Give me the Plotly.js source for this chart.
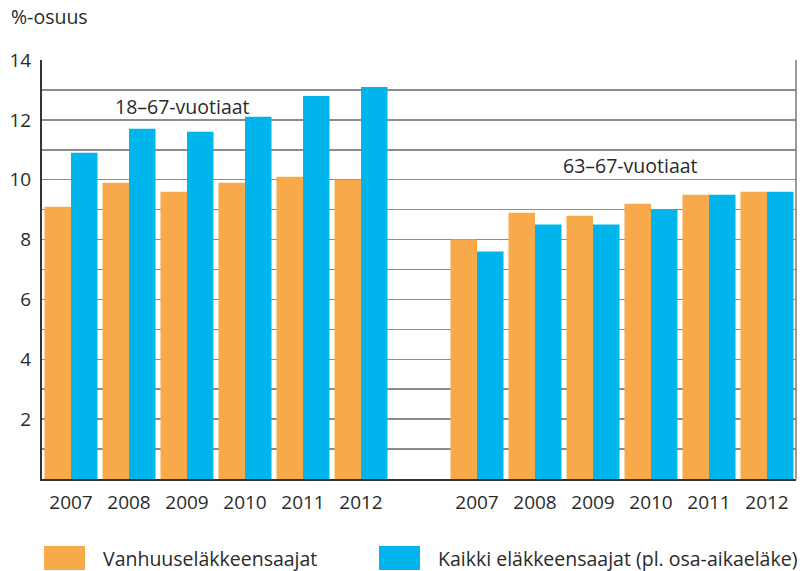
<!DOCTYPE html>
<html>
<head>
<meta charset="utf-8">
<script src="https://cdn.plot.ly/plotly-3.0.1.min.js"></script>
<style>html,body{margin:0;padding:0;background:#fff;}#chart{width:806px;height:571px;}</style>
</head>
<body>
<div id="chart"></div>
<script>
// ---- data ----
const years = ['2007', '2008', '2009', '2010', '2011', '2012'];
const groupLabels = ['18–67-vuotiaat', '63–67-vuotiaat'];
const seriesNames = ['Vanhuuseläkkeensaajat', 'Kaikki eläkkeensaajat (pl. osa-aikaeläke)'];
const oldAge_18_67 = [9.1, 9.9, 9.6, 9.9, 10.1, 10.0];
const all_18_67    = [10.9, 11.7, 11.6, 12.1, 12.8, 13.1];
const oldAge_63_67 = [8.0, 8.9, 8.8, 9.2, 9.5, 9.6];
const all_63_67    = [7.6, 8.5, 8.5, 9.0, 9.5, 9.6];
const yTicks = [2, 4, 6, 8, 10, 12, 14];
const yTitle = '%-osuus';

// ---- layout helpers ----
const n = years.length;
const xLeft = years.map((_, i) => i);
const xRight = years.map((_, i) => i + n + 1);
const xAll = xLeft.concat(xRight);
const tickText = years.concat(years);

const orange = '#F8AA4B';
const blue = '#00B5EC';
const font = 'Open Sans, Noto Sans, sans-serif';
const txt = '#2a2a2a';
const fs = 19.5;

const traces = [
  {type: 'bar', name: seriesNames[0], x: xAll, y: oldAge_18_67.concat(oldAge_63_67),
   marker: {color: orange, line: {width: 0}}, showlegend: false, hoverinfo: 'y'},
  {type: 'bar', name: seriesNames[1], x: xAll, y: all_18_67.concat(all_63_67),
   marker: {color: blue, line: {width: 0}}, showlegend: false, hoverinfo: 'y'}
];

function px2paperX(px) { return (px - 42) / 754; }
function px2paperY(py) { return (479 - py) / 419; }

const layout = {
  width: 806, height: 571,
  margin: {l: 42, r: 10, t: 60, b: 92},
  paper_bgcolor: '#fff', plot_bgcolor: '#fff',
  barmode: 'group', bargap: 5 / 58, bargroupgap: 0,
  font: {family: font, size: fs, color: txt},
  xaxis: {
    range: [-0.5, 2 * n + 0.5], tickvals: xAll, ticktext: tickText,
    showgrid: false, zeroline: false, showline: true, linecolor: '#333', linewidth: 2,
    ticks: '', ticklabelstandoff: 5, tickfont: {family: font, size: 19, color: txt},
    fixedrange: true
  },
  yaxis: {
    range: [0, 14], tickvals: yTicks, ticktext: yTicks.map(String),
    showgrid: true, gridcolor: '#8c8c8c', gridwidth: 1.5,
    minor: {dtick: 1, tick0: 0, showgrid: true, gridcolor: '#8c8c8c', gridwidth: 1.5},
    zeroline: false, showline: true, linecolor: '#333', linewidth: 2,
    ticks: '', ticklabelstandoff: 5, tickfont: {family: font, size: 19, color: txt},
    fixedrange: true
  },
  shapes: [
    {type: 'line', xref: 'paper', yref: 'paper', x0: 1, x1: 1, y0: 0, y1: 1,
     line: {color: '#7a7a7a', width: 1.5}},
    {type: 'rect', xref: 'paper', yref: 'paper', x0: px2paperX(44), x1: px2paperX(85),
     y0: px2paperY(570), y1: px2paperY(546), fillcolor: orange, line: {width: 0}},
    {type: 'rect', xref: 'paper', yref: 'paper', x0: px2paperX(379), x1: px2paperX(420),
     y0: px2paperY(570), y1: px2paperY(546), fillcolor: blue, line: {width: 0}}
  ],
  annotations: [
    {text: yTitle, xref: 'paper', yref: 'paper', x: px2paperX(9), y: px2paperY(17),
     xanchor: 'left', yanchor: 'middle', showarrow: false, font: {family: font, size: fs, color: txt}},
    {text: groupLabels[0], xref: 'x', yref: 'y', x: 1.93, y: 12.46,
     xanchor: 'center', yanchor: 'middle', showarrow: false, font: {family: font, size: fs, color: txt}},
    {text: groupLabels[1], xref: 'x', yref: 'y', x: 9.64, y: 10.49,
     xanchor: 'center', yanchor: 'middle', showarrow: false, font: {family: font, size: fs, color: txt}},
    {text: seriesNames[0], xref: 'paper', yref: 'paper', x: px2paperX(101), y: px2paperY(558),
     xanchor: 'left', yanchor: 'middle', showarrow: false, font: {family: font, size: fs, color: txt}},
    {text: seriesNames[1], xref: 'paper', yref: 'paper', x: px2paperX(436), y: px2paperY(558),
     xanchor: 'left', yanchor: 'middle', showarrow: false, font: {family: font, size: fs, color: txt}}
  ]
};

Plotly.newPlot('chart', traces, layout, {displayModeBar: false, staticPlot: true});
</script>
</body>
</html>
